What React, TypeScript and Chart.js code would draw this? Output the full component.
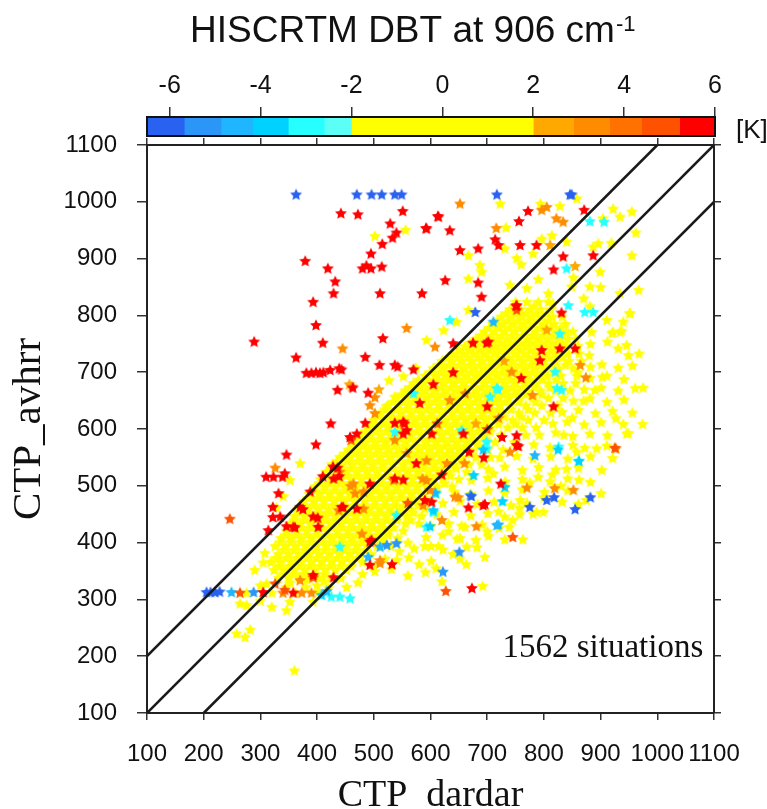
import { useEffect, useRef } from 'react';
import { Chart, registerables } from 'chart.js';
Chart.register(...registerables);

// ---------- colour bar (DBT, K) ----------
const cbEdges = [-6.5, -5.68, -4.87, -4.17, -3.39, -2.6, -2, 2, 2.89, 3.68, 4.38, 5.22, 6];
const cbColors = ['#2962F0', '#2B96F8', '#20B6FF', '#00D2FF', '#25FFFF', '#5CFFF6', '#FFFF00', '#FFA800', '#FF8C00', '#FF7200', '#FF5200', '#FF0000'];
const cbTicks = [-6, -4, -2, 0, 2, 4, 6];

const titleMain = 'HISCRTM DBT at 906 cm';
const titleSup = '-1';
const unitLabel = '[K]';
const xTitle = 'CTP_dardar';
const yTitle = 'CTP_avhrr';
const noteText = '1562 situations';
const noteX = 1081;
const noteY = 199;

// reference lines y = x + 100, y = x, y = x - 100
const refLines = [
  [[100, 200], [1000, 1100]],
  [[100, 100], [1100, 1100]],
  [[200, 100], [1100, 1000]],
];

// ---------- scatter points [CTP_dardar, CTP_avhrr] by DBT class ----------
const redPts = [
  [442,980],[472,978],[551,984],[613,975],[529,962],[592,954],[540,946],[533,937],[515,926],[495,909],[379,896],[419,883],[480,883],[487,888],[495,883],[514,886],[432,860],[429,839],[511,839],[585,839],[393,824],[398,783],[289,754],[410,752],[516,760],[363,726],[485,727],[510,713],[537,713],[542,710],[570,705],[381,699],[390,699],[398,700],[405,699],[411,700],[423,704],[439,707],[443,705],[463,673],[436,669],[490,664],[485,611],[424,610],[470,592],[458,586],[554,610],[398,573],[346,555],[310,516],[323,516],[339,516],[332,487],[322,463],[335,446],[322,445],[314,422],[346,429],[361,427],[375,459],[388,490],[410,517],[428,534],[436,532],[439,517],[401,444],[358,312],[305,313],
  [614,974],[593,953],[634,950],[772,984],[756,966],[871,986],[714,934],[720,924],[652,915],[684,918],[758,924],[787,924],[834,904],[887,906],[817,881],[626,862],[684,858],[690,833],[752,818],[831,805],[640,751],[675,752],[702,754],[796,739],[828,742],[855,742],[793,721],
  [751,817],[699,752],[817,640],[726,586],[752,589],[755,570],[694,550],[724,504],[696,468],[667,462],[602,472],[752,572],[602,592],[658,592],[673,320],
  [605,679],[581,646],[552,613],[558,598],[537,611],[537,513],[470,460],[493,402],[532,362],[429,513],[343,522],[370,463],[358,428],[393,446],[402,428],[443,463],[693,466],[429,339],[552,592],[552,511],[590,475],[493,504],[446,463],[496,405],[393,343],[493,361],
  [640,700],[700,640],[668,560],[760,690],[620,520],[575,540],
];
const orangeDarkPts = [
  [246,442],[264,312],[752,810],[745,410],[627,315],[343,317],[326,328],[393,339],[925,567],[612,610],[460,581],[700,600],[560,470],
];
const orangePts = [
  [558,778],[445,742],[608,745],[502,656],[493,642],[502,628],[326,532],[340,312],[373,312],[390,312],[652,997],[716,954],[796,986],[805,991],[822,971],[834,965],[864,713],[874,691],[743,701],[770,497],[852,493],[927,566],[819,496],[681,429],[643,481],[586,513],[461,675],[482,460],[440,525],[479,416],[467,487],[459,500],[587,466],[649,480],[634,651],[661,663],[593,545],[629,540],[535,510],[593,510],[599,493],[482,490],[464,504],[438,457],[511,364],[370,334],[537,581],[511,369],
  [720,620],[660,540],[780,660],[740,560],[620,440],
];
const orangeLightPts = [
  [457,679],[509,670],[805,775],[811,924],[855,887],[558,558],[680,610],[730,720],
];
const blueDarkPts = [
  [363,1013],[470,1013],[496,1013],[514,1013],[537,1013],[549,1013],[717,1013],[846,1013],[849,1013],[205,313],[212,313],[220,313],[228,314],[672,482],[775,463],[805,475],[818,480],[855,459],[882,480],[679,806],
];
const bluePts = [
  [288,313],[651,384],[622,349],[540,399],[523,396],
];
const skyPts = [
  [249,313],[417,315],[720,432],[784,554],[608,488],[670,484],[717,431],[490,375],[511,393],[711,789],
];
const cyanDeepPts = [
  [862,544],[599,429],[676,519],[693,564],[825,564],[731,498],[727,473],[605,457],[408,308],
];
const cyanPts = [
  [655,598],[881,966],[906,965],[840,883],[634,792],[843,818],[872,806],[887,806],[828,768],[820,701],[823,672],[717,672],[570,663],[705,657],[719,670],[831,669],[826,569],[861,544],[699,566],[699,578],[605,454],[593,428],[540,449],[610,487],[440,393],[537,595],[425,305],[440,305],[458,302],
];
// yellow (-2 K .. 2 K): dense rows [y, x1, x2, ...]
const yellowRows = [
  [338, 332,350,368,386,404,425],
  [352, 324,342,360,378,396,414,432,452],
  [366, 318,336,354,372,390,408,426,444,462,480],
  [380, 332,350,368,386,404,422,440,458,476,495],
  [394, 326,344,362,380,398,416,434,452,470,488,506,530],
  [408, 336,354,372,390,408,426,444,462,480,498,516,542],
  [421, 346,364,382,400,418,436,454,472,490,508,526,552],
  [434, 352,370,388,406,424,442,460,478,496,514,532,556,580],
  [447, 360,378,396,414,432,450,468,486,504,522,540,558,584],
  [460, 366,384,402,420,438,456,474,492,510,528,546,564,590],
  [473, 376,394,412,430,448,466,484,502,520,538,556,574,600],
  [486, 386,404,422,440,458,476,494,512,530,548,566,584,610],
  [499, 396,414,432,450,468,486,504,522,540,558,576,594,612,638],
  [512, 406,424,442,460,478,496,514,532,550,568,586,604,622,650],
  [525, 416,434,452,470,488,506,524,542,560,578,596,614,632,664],
  [538, 426,444,462,480,498,516,534,552,570,588,606,624,642,668,690],
  [551, 440,458,476,494,512,530,548,566,584,602,620,638,656,680,706],
  [564, 455,473,491,509,527,545,563,581,599,617,635,653,671,700,728],
  [577, 466,484,502,520,538,556,574,592,610,628,646,664,682,714,748],
  [590, 476,494,512,530,548,566,584,602,620,638,656,674,692,724,768],
  [603, 490,508,526,544,562,580,598,616,634,652,670,688,706,736,762,786],
  [616, 500,518,536,554,572,590,608,626,644,662,680,698,716,745,772,800],
  [629, 512,530,548,566,584,602,620,638,656,674,692,710,728,756,784,812],
  [642, 525,543,561,579,597,615,633,651,669,687,705,723,741,768,796,824],
  [655, 540,558,576,594,612,630,648,666,684,702,720,738,756,780,808,834],
  [668, 555,573,591,609,627,645,663,681,699,717,735,753,771,794,820,846],
  [681, 570,588,606,624,642,660,678,696,714,732,750,768,786,808,834,856],
  [694, 590,608,626,644,662,680,698,716,734,752,770,788,806,830,858],
  [707, 605,623,641,659,677,695,713,731,749,767,785,803,826,852],
  [720, 620,638,656,674,692,710,728,746,764,782,800,820,844,866],
  [733, 640,658,676,694,712,730,748,766,784,802,820,842,862],
  [746, 660,678,696,714,732,750,768,786,804,822,840,860],
  [759, 680,698,716,734,752,770,788,806,824,842,856],
  [772, 695,713,731,749,767,785,803,821,839,851],
  [785, 710,728,746,764,782,800,818,838],
  [798, 725,743,761,779,797,815,832],
  [811, 740,758,776,794,812],
  [824, 750,770,790,808],
];
// yellow core, in-between rows
const yellowRows2 = [
  [345, 341,359,377,395,413],
  [359, 333,351,369,387,405,423,441,460],
  [373, 327,345,363,381,399,417,435,453,471],
  [387, 341,359,377,395,413,431,449,467,485],
  [401, 335,353,371,389,407,425,443,461,479,497,515],
  [414, 345,363,381,399,417,435,453,471,489,507,525],
  [427, 355,373,391,409,427,445,463,481,499,517,535],
  [440, 361,379,397,415,433,451,469,487,505,523,541,565],
  [453, 369,387,405,423,441,459,477,495,513,531,549,570],
  [466, 375,393,411,429,447,465,483,501,519,537,555,578],
  [479, 385,403,421,439,457,475,493,511,529,547,565,588],
  [492, 395,413,431,449,467,485,503,521,539,557,575,596],
  [505, 405,423,441,459,477,495,513,531,549,567,585,603,625],
  [518, 415,433,451,469,487,505,523,541,559,577,595,613,635],
  [531, 425,443,461,479,497,515,533,551,569,587,605,623,645],
  [544, 435,453,471,489,507,525,543,561,579,597,615,633,655],
  [557, 449,467,485,503,521,539,557,575,593,611,629,647,670],
  [570, 464,482,500,518,536,554,572,590,608,626,644,662,685],
  [583, 475,493,511,529,547,565,583,601,619,637,655,673,698],
  [596, 485,503,521,539,557,575,593,611,629,647,665,683,705],
  [609, 499,517,535,553,571,589,607,625,643,661,679,697,720,750],
  [622, 509,527,545,563,581,599,617,635,653,671,689,707,730,760],
  [635, 521,539,557,575,593,611,629,647,665,683,701,719,742,772],
  [648, 534,552,570,588,606,624,642,660,678,696,714,732,755,785],
  [661, 549,567,585,603,621,639,657,675,693,711,729,747,768,796],
  [674, 564,582,600,618,636,654,672,690,708,726,744,762,783,810],
  [687, 579,597,615,633,651,669,687,705,723,741,759,777,797,822],
  [700, 599,617,635,653,671,689,707,725,743,761,779,797,818],
  [713, 614,632,650,668,686,704,722,740,758,776,794,814,838],
  [726, 630,648,666,684,702,720,738,756,774,792,810,832],
  [739, 650,668,686,704,722,740,758,776,794,812,832],
  [752, 670,688,706,724,742,760,778,796,814,832],
  [765, 689,707,725,743,761,779,797,815,833],
  [778, 703,721,739,757,775,793,811,829],
  [791, 718,736,754,772,790,808],
  [804, 733,751,769,787,805],
];
// yellow spread below the lower line (x > y + 100)
const yellowRight = [
  [622,470],[652,474],[683,468],[712,472],[742,466],[832,472],[861,468],
  [642,490],[671,486],[702,492],[731,488],[762,494],[801,489],[842,492],[901,487],
  [672,510],[701,514],[732,508],[762,512],[811,508],[842,513],[882,507],
  [702,530],[731,534],[762,528],[791,533],[821,529],[861,532],[902,528],
  [722,550],[752,553],[781,548],[812,552],[842,548],[882,552],[921,549],
  [752,570],[782,573],[811,568],[851,572],[872,567],[911,571],
  [792,590],[821,594],[851,588],[881,592],[912,589],
  [816,610],[841,613],[871,608],[901,612],[940,609],
  [832,630],[861,634],[891,628],[921,632],[956,629],
  [852,650],[881,654],[911,648],[941,652],
  [871,670],[901,673],[931,668],[961,672],
  [881,690],[911,694],[941,688],
  [882,710],[902,714],[931,708],[956,712],
  [882,750],[912,754],[946,748],
  [601,430],[632,434],[661,428],[691,432],[721,426],
  [611,450],[641,454],[671,448],[701,452],[731,446],[781,451],
  [592,410],[621,414],[652,408],[702,412],[731,406],
  [571,390],[601,394],[622,388],[682,392],
  [541,370],[562,374],[601,368],[652,372],
  [502,350],[531,354],[591,348],
  [352,330],[382,335],[412,332],[442,338],[472,330],[362,312],[402,313],[452,322],
];
// yellow scattered points
const yellowPts = [
  [360,175],[258,240],[273,234],[282,247],[264,293],[276,290],[320,287],[346,281],[352,296],[393,296],[300,298],[276,312],[320,312],[311,328],[300,325],[345,322],[380,322],[400,325],[420,320],[308,382],[329,372],[332,358],[352,510],[370,540],[340,482],[328,462],[290,352],[305,365],
  [480,345],[500,358],[520,372],[545,385],[560,400],[590,394],[614,394],[647,407],[664,393],[663,362],[610,355],[620,332],[692,324],[696,375],[739,428],[763,406],[757,450],[757,461],[787,454],[799,454],[758,475],[711,522],[775,506],[790,516],[862,511],[875,475],[893,566],[949,593],[974,609],[927,619],[946,592],
  [700,420],[680,405],[655,430],[632,420],[640,380],[580,362],[560,342],[720,455],[745,440],[770,470],[800,480],[830,500],[815,520],[840,530],[858,560],[835,590],[850,620],[870,650],[890,669],[903,692],[860,700],[880,730],[911,792],[884,771],[922,771],[937,773],[940,789],[951,804],[931,742],[949,730],[968,733],[975,673],
  [723,997],[794,997],[828,993],[858,1006],[922,988],[955,983],[934,974],[904,971],[733,955],[667,906],[731,918],[781,909],[752,901],[796,935],[814,941],[887,921],[896,927],[919,928],[962,946],[955,906],[687,889],[690,877],[667,865],[790,864],[852,867],[899,877],[881,851],[967,845],[934,839],[849,851],[740,854],[770,848],[808,839],[816,821],[782,816],[881,816],[952,804],[920,769],[934,771],[623,774],[646,789],[667,810],[593,757],
  [502,940],[556,951],[527,686],[552,693],[574,708],[522,640],[537,657],[760,890],[840,930],[870,830],[900,850],
];

const serif = "'Liberation Serif', 'Times New Roman', serif";
const sans = "'Liberation Sans', Arial, Helvetica, sans-serif";

function makeStar(color: string): HTMLCanvasElement {
  const s = 16;
  const c = document.createElement('canvas');
  c.width = s; c.height = s;
  const g = c.getContext('2d')!;
  const R = 6.3, r = 3.0, cx = 8, cy = 8.5;
  g.filter = 'blur(0.4px)';
  g.beginPath();
  for (let i = 0; i < 10; i++) {
    const rad = i % 2 === 0 ? R : r;
    const a = -Math.PI / 2 + (i * Math.PI) / 5;
    const px = cx + rad * Math.cos(a);
    const py = cy + rad * Math.sin(a);
    if (i === 0) g.moveTo(px, py); else g.lineTo(px, py);
  }
  g.closePath();
  g.fillStyle = color;
  g.fill();
  return c;
}

const toXY = (pts: number[][]) => pts.map(([x, y]) => ({ x, y }));
const rowsToXY = (rows: number[][]) => rows.flatMap((row) => row.slice(1).map((x) => ({ x, y: row[0] })));

export default function App() {
  const mainRef = useRef<HTMLCanvasElement>(null);
  const barRef = useRef<HTMLCanvasElement>(null);

  useEffect(() => {
    const yellowAll = [...rowsToXY(yellowRows), ...rowsToXY(yellowRows2), ...toXY(yellowRight), ...toXY(yellowPts)];
    const groups = [
      { label: 'red', pts: toXY(redPts), color: cbColors[11] },
      { label: 'orange-red', pts: toXY(orangeDarkPts), color: cbColors[10] },
      { label: 'orange', pts: toXY(orangePts), color: cbColors[8] },
      { label: 'light orange', pts: toXY(orangeLightPts), color: cbColors[7] },
      { label: 'dark blue', pts: toXY(blueDarkPts), color: cbColors[0] },
      { label: 'blue', pts: toXY(bluePts), color: cbColors[1] },
      { label: 'sky', pts: toXY(skyPts), color: cbColors[2] },
      { label: 'deep cyan', pts: toXY(cyanDeepPts), color: cbColors[3] },
      { label: 'cyan', pts: toXY(cyanPts), color: cbColors[4] },
      { label: 'yellow', pts: yellowAll, color: cbColors[6] },
    ];

    const lineSets = refLines.map((l, i) => ({
      label: 'line' + i,
      data: l.map(([x, y]) => ({ x, y })),
      showLine: true,
      borderColor: '#1a1a1a',
      borderWidth: 2.6,
      pointRadius: 0,
      fill: false,
    }));
    const pointSets = groups.map((g) => ({
      label: g.label,
      data: g.pts,
      pointStyle: makeStar(g.color),
      pointRadius: 5,
      showLine: false,
    }));

    const gridOpts = (len: number) => ({
      drawOnChartArea: false,
      drawTicks: true,
      tickLength: len,
      color: '#333',
      lineWidth: 1.5,
    });
    const borderOpts = { display: true, color: '#222', width: 2 };
    const tickFont = { family: sans, size: 24 };
    const plain = (v: any) => String(v);

    const notePlugin = {
      id: 'note',
      afterDatasetsDraw(chart: any) {
        const { ctx, scales } = chart;
        ctx.save();
        ctx.font = `33px ${serif}`;
        ctx.fillStyle = '#111';
        ctx.textAlign = 'right';
        ctx.textBaseline = 'alphabetic';
        ctx.fillText(noteText, scales.x.getPixelForValue(noteX), scales.y.getPixelForValue(noteY));
        ctx.restore();
      },
    };

    const main = new Chart(mainRef.current!, {
      type: 'scatter',
      data: { datasets: [...lineSets, ...pointSets] as any },
      options: {
        responsive: false,
        animation: false,
        events: [],
        layout: { padding: 0 },
        plugins: { legend: { display: false }, tooltip: { enabled: false } },
        scales: {
          x: {
            type: 'linear', position: 'bottom', min: 100, max: 1100,
            afterFit: (s: any) => { s.height = 96; },
            ticks: { stepSize: 100, autoSkip: false, maxRotation: 0, minRotation: 0, font: tickFont, color: '#111', padding: 20, callback: plain },
            grid: gridOpts(7),
            border: borderOpts,
            title: { display: true, text: xTitle, color: '#111', font: { family: serif, size: 38, lineHeight: 0.7 }, padding: { top: 0, bottom: 0 } },
          },
          x2: {
            type: 'linear', position: 'top', min: 100, max: 1100,
            afterFit: (s: any) => { s.height = 145; },
            ticks: { display: false, stepSize: 100 },
            grid: gridOpts(7),
            border: borderOpts,
          },
          y: {
            type: 'linear', position: 'left', min: 100, max: 1100,
            afterFit: (s: any) => { s.width = 147; },
            ticks: { stepSize: 100, font: tickFont, color: '#111', padding: 20, callback: plain },
            grid: gridOpts(10),
            border: borderOpts,
            title: { display: true, text: yTitle, color: '#111', font: { family: serif, size: 41 }, padding: { top: 5, bottom: 0 } },
          },
          y2: {
            type: 'linear', position: 'right', min: 100, max: 1100,
            afterFit: (s: any) => { s.width = 53; },
            ticks: { display: false, stepSize: 100 },
            grid: gridOpts(7),
            border: borderOpts,
          },
        },
      } as any,
      plugins: [notePlugin],
    });

    const cbPlugin = {
      id: 'cbDecor',
      afterDraw(chart: any) {
        const { ctx, chartArea } = chart;
        ctx.save();
        ctx.strokeStyle = '#111';
        ctx.lineWidth = 2;
        ctx.strokeRect(chartArea.left, chartArea.top, chartArea.right - chartArea.left, chartArea.bottom - chartArea.top);
        ctx.fillStyle = '#111';
        ctx.textBaseline = 'middle';
        ctx.textAlign = 'left';
        ctx.font = `26px ${sans}`;
        ctx.fillText(unitLabel, chartArea.right + 21, 131);
        ctx.textBaseline = 'alphabetic';
        ctx.font = `37px ${sans}`;
        const w = ctx.measureText(titleMain).width;
        const x0 = 190;
        ctx.fillText(titleMain, x0, 42);
        ctx.font = `22px ${sans}`;
        ctx.fillText(titleSup, x0 + w + 1, 31);
        ctx.restore();
      },
    };

    const bar = new Chart(barRef.current!, {
      type: 'bar',
      data: {
        labels: ['DBT'],
        datasets: cbColors.map((c, i) => ({
          label: 'bin' + i,
          data: [[cbEdges[i], cbEdges[i + 1]]],
          backgroundColor: c,
          borderWidth: 0,
          borderSkipped: false,
          barPercentage: 1,
          categoryPercentage: 1,
          grouped: false,
        })) as any,
      },
      options: {
        indexAxis: 'y',
        responsive: false,
        animation: false,
        events: [],
        layout: { padding: { left: 147, right: 52, top: 0, bottom: 9 } },
        plugins: { legend: { display: false }, tooltip: { enabled: false } },
        scales: {
          x: {
            type: 'linear', position: 'top', min: -6.5, max: 6,
            afterBuildTicks: (s: any) => { s.ticks = cbTicks.map((v) => ({ value: v })); },
            afterFit: (s: any) => { s.height = 117; },
            ticks: { font: { family: sans, size: 25 }, color: '#111', padding: 6, autoSkip: false, maxRotation: 0 },
            grid: { drawOnChartArea: false, drawTicks: true, tickLength: 10, color: '#333', lineWidth: 1.5 },
            border: { display: false },
          },
          y: { display: false },
        },
      } as any,
      plugins: [cbPlugin],
    });

    return () => {
      main.destroy();
      bar.destroy();
    };
  }, []);

  return (
    <div style={{ position: 'fixed', left: 0, top: 0, width: 767, height: 809, background: '#fff' }}>
      <canvas ref={mainRef} width={767} height={809} style={{ position: 'absolute', left: 0, top: 0, width: 767, height: 809 }} />
      <canvas ref={barRef} width={767} height={145} style={{ position: 'absolute', left: 0, top: 0, width: 767, height: 145 }} />
    </div>
  );
}
